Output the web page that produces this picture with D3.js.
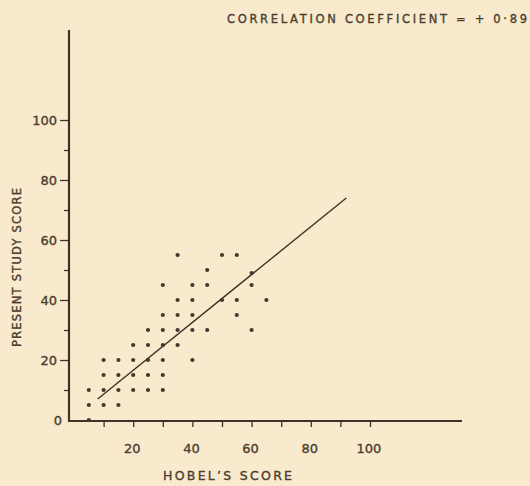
<!DOCTYPE html>
<html>
<head>
<meta charset="utf-8">
<script src="https://cdn.jsdelivr.net/npm/d3@7"></script>
<style>
  body { margin: 0; background: #f9eacd; }
  svg { display: block; }
  text { font-family: "DejaVu Sans", sans-serif; fill: #4b3e2f; stroke: #4b3e2f; stroke-width: 0.35px; }
</style>
</head>
<body>
<svg id="chart" width="530" height="486"></svg>
<script>
// scores (Hobel's score vs present study score)
let hobelScore = [35, 50, 55, 45, 60, 30, 40, 45, 60, 35, 40, 50, 55, 65, 30, 35, 40, 55,
    25, 30, 35, 40, 45, 60, 20, 25, 30, 35, 10, 15, 20, 25, 30, 40, 10, 15, 20, 25, 30,
    5, 10, 15, 20, 25, 30, 5, 10, 15, 5];
let presentScore = [55, 55, 55, 50, 49, 45, 45, 45, 45, 40, 40, 40, 40, 40, 35, 35, 35, 35,
    30, 30, 30, 30, 30, 30, 25, 25, 25, 25, 20, 20, 20, 20, 20, 20, 15, 15, 15, 15, 15,
    10, 10, 10, 10, 10, 10, 5, 5, 5, 0];

// regression line ends
let lineX = [8, 92];
let lineY = [7, 74];

let xTicks = [20, 40, 60, 80, 100];
let yTicks = [0, 20, 40, 60, 80, 100];
let title = "CORRELATION  COEFFICIENT = + 0·89";

let svg = d3.select("#chart");
let ink = "#3e3328";

let x = d3.scaleLinear().domain([0, 100]).range([74, 370]);
let y = d3.scaleLinear().domain([0, 100]).range([420, 120]);

// x axis: minor ticks every 10, labels at 20s
let xAxis = d3.axisBottom(x).tickValues(d3.range(10, 101, 10))
    .tickSize(6).tickFormat("");
let gx = svg.append("g").attr("transform", "translate(0,421)").call(xAxis);
gx.select(".domain").remove();
gx.selectAll("line").attr("stroke", ink).attr("stroke-width", 1.3);
gx.append("line")
    .attr("x1", 70).attr("x2", 462)
    .attr("stroke", ink).attr("stroke-width", 2.2);

svg.append("g").selectAll("text")
    .data(xTicks)
    .enter().append("text")
    .attr("x", d => x(d) - 1)
    .attr("y", 453)
    .attr("text-anchor", "middle")
    .style("font-size", "13px")
    .text(d => d);

// y axis: ticks on the left
let yAxis = d3.axisLeft(y).tickValues(d3.range(10, 101, 10))
    .tickSize(6).tickFormat("");
let gy = svg.append("g").attr("transform", "translate(69,0)").call(yAxis);
gy.select(".domain").remove();
gy.selectAll("line").attr("stroke", ink).attr("stroke-width", 1.3)
    .attr("x2", d => d % 20 == 0 ? -9 : -5);
gy.append("line")
    .attr("y1", 30).attr("y2", 422)
    .attr("stroke", ink).attr("stroke-width", 2.2);

svg.append("g").selectAll("text")
    .data(yTicks)
    .enter().append("text")
    .attr("x", d => d == 0 ? 62 : 57)
    .attr("y", d => y(d) + 5)
    .attr("text-anchor", "end")
    .style("font-size", "13px")
    .text(d => d);

// scatter points
svg.append("g").selectAll("circle")
    .data(hobelScore)
    .enter().append("circle")
    .attr("cx", d => x(d))
    .attr("cy", (d, i) => y(presentScore[i]))
    .attr("r", 2.1)
    .attr("fill", "#43392e");

// regression line
svg.append("line")
    .attr("x1", x(lineX[0])).attr("y1", y(lineY[0]))
    .attr("x2", x(lineX[1])).attr("y2", y(lineY[1]))
    .attr("stroke", ink).attr("stroke-width", 1.4);

// labels, stretched to the lettering widths in the scan
svg.append("text")
    .attr("x", 163).attr("y", 480)
    .attr("textLength", 129).attr("lengthAdjust", "spacing")
    .style("font-size", "12.5px")
    .text("HOBEL’S  SCORE");

svg.append("text")
    .attr("transform", "translate(21,347) rotate(-90)")
    .attr("textLength", 159).attr("lengthAdjust", "spacing")
    .style("font-size", "11.5px")
    .text("PRESENT  STUDY  SCORE");

svg.append("text")
    .attr("x", 227).attr("y", 23)
    .attr("textLength", 300).attr("lengthAdjust", "spacing")
    .style("font-size", "11.5px")
    .text(title);
</script>
</body>
</html>
